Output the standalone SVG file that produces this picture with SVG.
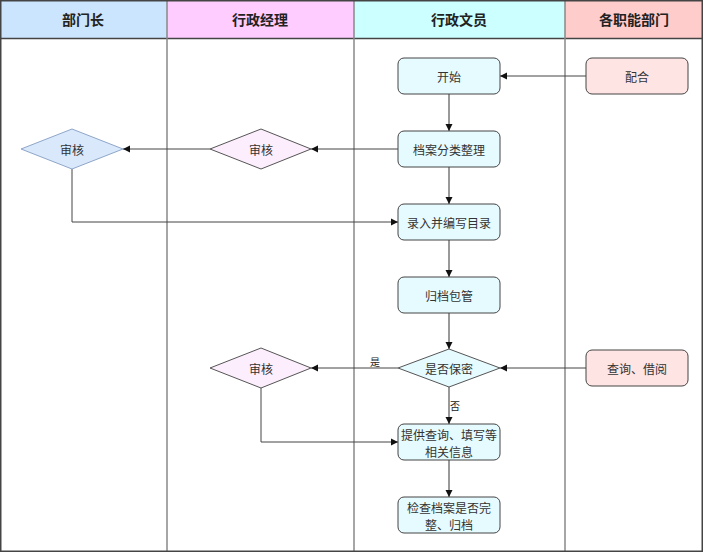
<svg xmlns="http://www.w3.org/2000/svg" width="703" height="552" viewBox="0 0 703 552">
<style>
text{font-family:"Noto Sans CJK SC","Liberation Sans",sans-serif;font-size:12px;fill:#333;text-anchor:middle;dominant-baseline:central}
.hd{font-size:14px;font-weight:bold;fill:#222}
.box{fill:#e6fbff;stroke:#444;stroke-width:1}
.pink{fill:#ffe4e4;stroke:#444;stroke-width:1}
.dblue{fill:#dae8fc;stroke:#8ea6c8;stroke-width:1}
.dpink{fill:#fdeefd;stroke:#555;stroke-width:1}
.dcyan{fill:#e6fbff;stroke:#555;stroke-width:1}
.ln{fill:none;stroke:#444;stroke-width:1}
.lg{fill:none;stroke:#777;stroke-width:1.5}
.lbl{font-size:10px;fill:#222}
</style>
<defs>
<marker id="ah" markerWidth="8" markerHeight="8" refX="7" refY="4" orient="auto" markerUnits="userSpaceOnUse">
<path d="M0,0.5 L7,4 L0,7.5 Z" fill="#111"/>
</marker>
</defs>
<rect x="0" y="0" width="703" height="552" fill="#fff"/>
<g id="lanes">
<rect x="0" y="0" width="167" height="38" fill="#cce5ff"/>
<rect x="167" y="0" width="187" height="38" fill="#ffccff"/>
<rect x="354" y="0" width="211" height="38" fill="#ccffff"/>
<rect x="565" y="0" width="138" height="38" fill="#ffcccc"/>
<line x1="0" y1="38.5" x2="703" y2="38.5" stroke="#444" stroke-width="1.5"/>
<line x1="167" y1="0" x2="167" y2="552" stroke="#888" stroke-width="1.5"/>
<line x1="354" y1="0" x2="354" y2="552" stroke="#888" stroke-width="1.5"/>
<line x1="565" y1="0" x2="565" y2="552" stroke="#888" stroke-width="1.5"/>
<rect x="0.75" y="0.75" width="701.5" height="550.5" fill="none" stroke="#444" stroke-width="1.5"/>
<text class="hd" x="83" y="19">部门长</text>
<text class="hd" x="260" y="19">行政经理</text>
<text class="hd" x="459" y="19">行政文员</text>
<text class="hd" x="634" y="19">各职能部门</text>
</g>
<g id="connectors">
<line class="ln" x1="586" y1="76" x2="500" y2="76" marker-end="url(#ah)"/>
<line class="lg" x1="449" y1="94" x2="449" y2="131" marker-end="url(#ah)"/>
<line class="ln" x1="398" y1="149" x2="311" y2="149" marker-end="url(#ah)"/>
<line class="ln" x1="210" y1="149" x2="123" y2="149" marker-end="url(#ah)"/>
<polyline class="ln" points="72,169 72,222 398,222" marker-end="url(#ah)"/>
<line class="lg" x1="449" y1="167" x2="449" y2="204" marker-end="url(#ah)"/>
<line class="lg" x1="449" y1="240" x2="449" y2="277" marker-end="url(#ah)"/>
<line class="lg" x1="449" y1="313" x2="449" y2="349" marker-end="url(#ah)"/>
<line class="ln" x1="586" y1="368" x2="500" y2="368" marker-end="url(#ah)"/>
<line class="ln" x1="398" y1="368" x2="311" y2="368" marker-end="url(#ah)"/>
<text class="lbl" x="375" y="361">是</text>
<line class="lg" x1="449" y1="387" x2="449" y2="424" marker-end="url(#ah)"/>
<text class="lbl" x="455" y="405">否</text>
<polyline class="ln" points="261,388 261,442 398,442" marker-end="url(#ah)"/>
<line class="lg" x1="449" y1="460" x2="449" y2="497" marker-end="url(#ah)"/>
</g>
<g id="n_start"><rect class="box" x="398" y="58" width="102" height="36" rx="6"/><text x="449" y="76">开始</text></g>
<g id="n_peihe"><rect class="pink" x="586" y="58" width="102" height="36" rx="6"/><text x="637" y="76">配合</text></g>
<g id="n_fenlei"><rect class="box" x="398" y="131" width="102" height="36" rx="6"/><text x="449" y="149">档案分类整理</text></g>
<g id="n_shenhe_mgr"><polygon class="dpink" points="210,149 261,129 311,149 261,169"/><text x="261" y="149">审核</text></g>
<g id="n_shenhe_head"><polygon class="dblue" points="21,149 72,129 123,149 72,169"/><text x="72" y="149">审核</text></g>
<g id="n_luru"><rect class="box" x="398" y="204" width="102" height="36" rx="6"/><text x="449" y="222">录入并编写目录</text></g>
<g id="n_guidang"><rect class="box" x="398" y="277" width="102" height="36" rx="6"/><text x="449" y="295">归档包管</text></g>
<g id="n_baomi"><polygon class="dcyan" points="398,368 449,349 500,368 449,387"/><text x="449" y="368">是否保密</text></g>
<g id="n_chaxun"><rect class="pink" x="586" y="350" width="102" height="36" rx="6"/><text x="637" y="368">查询、借阅</text></g>
<g id="n_shenhe2"><polygon class="dpink" points="210,368 261,348 311,368 261,388"/><text x="261" y="368">审核</text></g>
<g id="n_tigong"><rect class="box" x="398" y="424" width="102" height="36" rx="6"/><text x="449" y="434">提供查询、填写等</text><text x="449" y="451">相关信息</text></g>
<g id="n_jiancha"><rect class="box" x="398" y="497" width="102" height="36" rx="6"/><text x="449" y="507">检查档案是否完</text><text x="449" y="524">整、归档</text></g>
</svg>
